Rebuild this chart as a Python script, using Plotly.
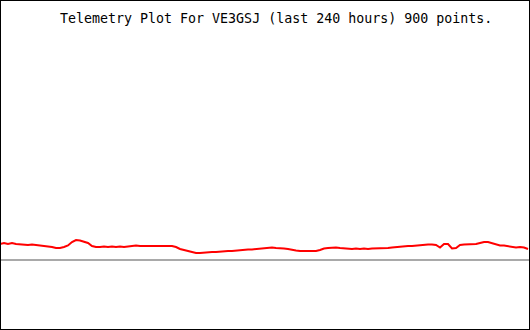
import numpy as np
import plotly.graph_objects as go

title_text = "Telemetry Plot For VE3GSJ (last 240 hours) 900 points."

# telemetry readings (height above the baseline)
values = [
    16, 17, 16, 17, 16, 15.5, 15, 15, 15.5, 15, 15, 14.5, 14, 13, 12, 12, 13, 14.5,
    18, 20, 19.5, 18, 17, 14, 13, 13, 13.5, 13, 13.5, 13, 13.5, 13, 13.5, 14, 14.5,
    14, 14, 14.5, 14.5, 14, 14, 14, 14.5, 14, 13, 11, 10, 9, 8, 7, 7, 7.5, 8, 8, 8,
    8.5, 9, 9, 9, 9.5, 10, 10, 10.5, 10.5, 11, 11.5, 12, 12, 12.5, 12, 12, 11.5, 11,
    10, 9.5, 9, 9, 8.5, 8.5, 9, 10, 11.5, 12, 12.5, 12.5, 12, 11.5, 11, 11, 11.5, 11,
    11.5, 11, 11.5, 11.5, 11.5, 12, 12, 12.5, 13, 13, 13.5, 14, 14, 14.5, 15, 15.5,
    15.5, 15.5, 15, 12.5, 16, 16, 11.5, 12, 15, 15.5, 15.5, 15.5, 16, 17, 18, 18, 17,
    15.5, 14.5, 14.5, 14, 13, 12.5, 13, 12.5, 11,
]
hours = np.linspace(0, 240, len(values))
baseline = 0

fig = go.Figure()
fig.add_trace(go.Scatter(
    x=hours, y=values, mode="lines",
    line=dict(color="#ff0000", width=2),
    hoverinfo="skip", showlegend=False,
))

fig.add_shape(type="line", xref="paper", yref="y", x0=0, x1=1,
              y0=baseline, y1=baseline, line=dict(color="#a9a9a9", width=2))
fig.add_shape(type="rect", xref="paper", yref="paper", x0=0, x1=1, y0=0, y1=1,
              line=dict(color="black", width=2))

fig.add_annotation(text=title_text, xref="paper", yref="paper",
                   x=276 / 530, y=1 - 18 / 330, xanchor="center", yanchor="middle",
                   showarrow=False,
                   font=dict(family="DejaVu Sans Mono", size=13.3, color="black"))

fig.update_layout(
    width=530, height=330,
    margin=dict(l=0, r=0, t=0, b=0),
    paper_bgcolor="white", plot_bgcolor="white",
    xaxis=dict(range=[0, 240.9], visible=False, fixedrange=True),
    yaxis=dict(range=[-70, 260], visible=False, fixedrange=True),
)

fig.write_html("out.html", config={"displayModeBar": False})
